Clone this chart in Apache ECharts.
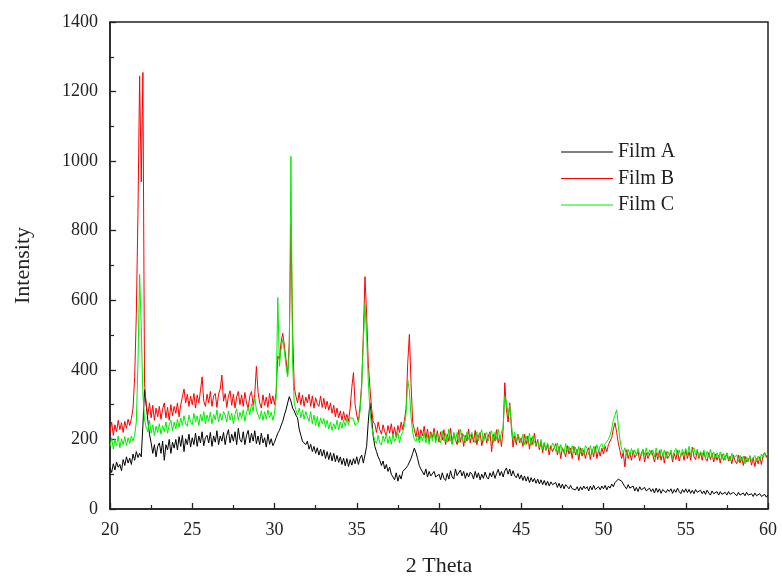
<!DOCTYPE html>
<html>
<head>
<meta charset="utf-8">
<script src="https://cdn.jsdelivr.net/npm/echarts@6/dist/echarts.min.js"></script>
<style>
html,body{margin:0;padding:0;background:#fff;}
#chart{width:782px;height:577px;}
</style>
</head>
<body>
<div id="chart"></div>
<script>
// 2-theta sampling: start 20.0, step 0.1 (401 points up to 60.0)
var thetaStart = 20;
var thetaStep = 0.1;
var xTicks = [20, 25, 30, 35, 40, 45, 50, 55, 60];
var yTicks = [0, 200, 400, 600, 800, 1000, 1200, 1400];
var seriesNames = ['Film A', 'Film B', 'Film C'];

var filmA = [
118,105,130,112,135,120,128,110,142,125,
150,132,146,128,158,140,165,148,160,150,
240,343,300,255,215,190,160,185,150,180,
190,160,195,140,185,170,200,160,192,175,
200,170,208,180,212,165,202,185,215,178,
205,185,218,180,210,190,222,182,205,212,
190,220,180,210,192,225,185,210,195,220,
185,212,228,190,215,195,222,185,232,200,
192,222,185,212,226,190,218,195,225,188,
210,185,218,190,205,178,215,186,202,182,
192,205,218,226,240,252,270,285,305,323,
310,290,282,270,262,230,212,195,200,185,
195,172,186,165,180,160,176,155,172,152,
170,145,165,142,162,138,160,136,154,134,
150,128,146,124,145,122,142,126,145,130,
150,128,146,155,132,128,180,250,305,265,
210,180,165,150,140,125,138,115,128,108,
120,100,92,84,104,80,98,86,108,104,
118,125,130,145,160,175,162,145,125,115,
112,98,115,92,108,95,100,108,92,96,
100,84,104,88,82,102,86,110,92,86,
115,96,92,112,95,108,88,104,92,106,
100,86,108,90,104,84,100,88,106,92,
86,104,92,108,88,102,114,96,108,92,
110,118,100,115,95,110,96,90,102,86,
98,82,95,80,93,76,90,78,88,74,
86,72,84,70,82,68,80,66,78,70,
65,76,62,74,60,72,58,70,64,58,
68,58,62,55,64,52,64,55,66,58,
64,52,66,55,68,56,52,64,55,66,
58,68,55,66,60,72,64,76,80,86,
90,80,72,64,58,70,60,55,66,52,
62,50,64,55,50,62,52,48,60,50,
58,46,60,48,58,45,56,60,47,56,
50,58,45,56,48,60,50,44,56,48,
58,47,56,45,54,44,56,48,46,54,
44,52,42,54,46,40,52,44,42,50,
40,50,42,38,48,40,50,42,38,48,
46,38,48,40,36,46,38,48,40,36,
44,36,46,38,34,44,36,32,42,34,
40
];

var filmB = [
220,250,212,242,222,255,228,248,220,252,
232,258,240,260,290,380,560,850,1245,940,
1255,360,300,270,305,262,298,255,290,265,
295,258,288,305,262,292,255,300,268,295,
275,305,265,300,322,345,305,330,295,325,
300,332,290,328,305,340,380,310,295,330,
305,338,295,325,332,292,330,345,385,310,
332,292,325,340,298,330,290,322,338,300,
328,295,335,305,290,325,338,298,330,410,
335,305,290,328,298,322,292,332,302,325,
300,335,440,430,480,505,470,430,385,480,
818,515,350,325,305,335,300,328,295,322,
305,330,295,325,290,320,302,295,325,292,
318,288,310,284,305,275,298,265,290,262,
282,255,280,255,272,252,290,350,392,300,
270,250,295,360,500,668,560,420,350,290,
250,244,220,250,228,215,242,222,210,240,
218,245,212,236,206,240,220,250,228,255,
290,420,502,360,250,228,208,235,200,228,
210,238,202,230,195,222,205,232,198,225,
192,222,198,228,185,215,195,232,188,218,
200,185,228,192,218,180,212,195,230,190,
215,192,226,185,210,220,182,205,218,190,
210,222,165,215,195,228,190,212,180,230,
363,285,250,305,235,178,210,185,215,190,
205,180,215,186,210,172,205,185,218,180,
200,170,195,162,190,168,185,155,182,165,
160,188,155,180,145,176,165,150,182,158,
175,145,180,155,172,140,176,152,170,145,
165,176,142,172,150,180,145,170,152,175,
158,180,165,185,190,205,230,248,220,190,
168,145,162,121,170,145,162,140,168,148,
145,165,138,160,170,135,162,145,140,168,
155,135,162,142,168,140,160,132,165,145,
140,162,135,160,142,168,138,155,162,140,
170,145,165,140,178,150,142,168,145,162,
140,165,145,138,162,142,160,135,158,140,
155,132,158,140,135,160,138,152,130,155,
138,130,155,132,150,125,152,135,130,150,
126,148,122,145,130,150,128,155,162,148,
160
];

var filmC = [
180,205,172,200,182,210,176,202,185,208,
182,205,188,210,195,212,250,420,674,520,
330,256,235,222,255,218,242,210,238,220,
245,215,240,222,250,218,242,255,225,250,
230,258,235,262,240,268,245,238,270,250,
242,275,250,268,240,272,252,280,245,270,
252,278,245,272,256,285,250,275,255,280,
270,250,282,256,275,245,272,288,255,278,
260,285,252,278,292,270,302,280,322,285,
285,258,282,255,280,258,285,262,278,255,
275,320,608,410,460,487,455,410,380,460,
1014,420,305,285,270,290,262,285,258,280,
265,252,280,245,270,240,266,236,262,245,
260,235,255,230,250,226,245,230,255,228,
250,232,255,238,260,242,262,258,260,240,
240,250,280,350,480,588,500,370,280,240,
215,196,188,212,190,184,210,194,215,188,
210,186,216,194,204,220,190,212,222,240,
275,372,340,265,220,200,194,216,190,212,
196,220,190,212,186,218,196,222,190,215,
210,190,225,195,218,192,230,200,185,220,
195,220,190,230,200,215,190,222,200,195,
220,200,190,222,195,215,228,192,212,220,
195,215,225,190,220,200,230,195,222,235,
323,310,270,300,245,200,220,195,215,200,
190,215,185,210,190,218,182,210,192,185,
195,176,200,172,192,170,190,175,168,190,
182,165,190,162,185,170,160,188,165,180,
160,182,162,178,155,180,160,175,156,182,
175,156,182,160,180,162,185,165,182,188,
172,188,190,200,212,230,255,270,285,240,
200,172,162,176,156,172,154,174,158,170,
154,174,158,152,172,155,176,154,170,156,
170,150,175,155,148,172,154,170,146,166,
154,170,146,166,174,154,170,150,172,156,
174,155,180,154,170,176,155,172,150,166,
154,170,146,166,150,172,148,164,144,162,
148,164,144,160,140,162,146,138,160,144,
140,156,136,154,138,152,130,150,136,154,
138,134,154,136,152,140,158,146,162,152,
160
];

function pairs(vals) {
  return vals.map(function (v, i) {
    return [Math.round((thetaStart + i * thetaStep) * 10) / 10, v];
  });
}

var colors = ['#000000', '#ff0000', '#00ee00'];
var FONT = 'Liberation Serif';

var chart = echarts.init(document.getElementById('chart'), null, {renderer: 'canvas'});
chart.setOption({
  animation: false,
  backgroundColor: '#ffffff',
  grid: {
    left: 110, right: 14, top: 22, bottom: 68,
    containLabel: false, outerBoundsMode: 'none',
    show: true, borderColor: '#222', borderWidth: 1.5, backgroundColor: 'transparent'
  },
  legend: {
    orient: 'vertical',
    left: 556, top: 137,
    itemWidth: 52, itemHeight: 1, itemGap: 6.5,
    icon: 'rect',
    textStyle: {fontFamily: FONT, fontSize: 20, color: '#222', lineHeight: 20},
    data: seriesNames
  },
  xAxis: {
    type: 'value', min: xTicks[0], max: xTicks[xTicks.length - 1], interval: 5,
    name: '2 Theta', nameLocation: 'middle', nameGap: 46,
    nameTextStyle: {fontFamily: FONT, fontSize: 22, color: '#222'},
    axisLine: {show: true, onZero: false, lineStyle: {color: '#222', width: 1.5}},
    axisTick: {show: true, inside: true, length: 6, lineStyle: {color: '#222', width: 1.3}},
    minorTick: {show: true, splitNumber: 2, length: 4, lineStyle: {color: '#222', width: 1.2}},
    splitLine: {show: false},
    axisLabel: {fontFamily: FONT, fontSize: 18, color: '#222', margin: 12,
      formatter: function (v) { return String(v); }}
  },
  yAxis: {
    type: 'value', min: yTicks[0], max: yTicks[yTicks.length - 1], interval: 200,
    name: 'Intensity', nameLocation: 'middle', nameGap: 76, nameRotate: 90,
    nameTextStyle: {fontFamily: FONT, fontSize: 22, color: '#222'},
    axisLine: {show: true, onZero: false, lineStyle: {color: '#222', width: 1.5}},
    axisTick: {show: true, inside: true, length: 6, lineStyle: {color: '#222', width: 1.3}},
    minorTick: {show: true, splitNumber: 2, length: 4, lineStyle: {color: '#222', width: 1.2}},
    splitLine: {show: false},
    axisLabel: {fontFamily: FONT, fontSize: 18, color: '#222', margin: 12,
      formatter: function (v) { return String(v); }}
  },
  series: [filmA, filmB, filmC].map(function (vals, k) {
    return {
      name: seriesNames[k],
      type: 'line',
      data: pairs(vals),
      symbol: 'none',
      showSymbol: false,
      lineStyle: {color: colors[k], width: 1},
      itemStyle: {color: colors[k]},
      z: 2 + k
    };
  })
});
</script>
</body>
</html>
